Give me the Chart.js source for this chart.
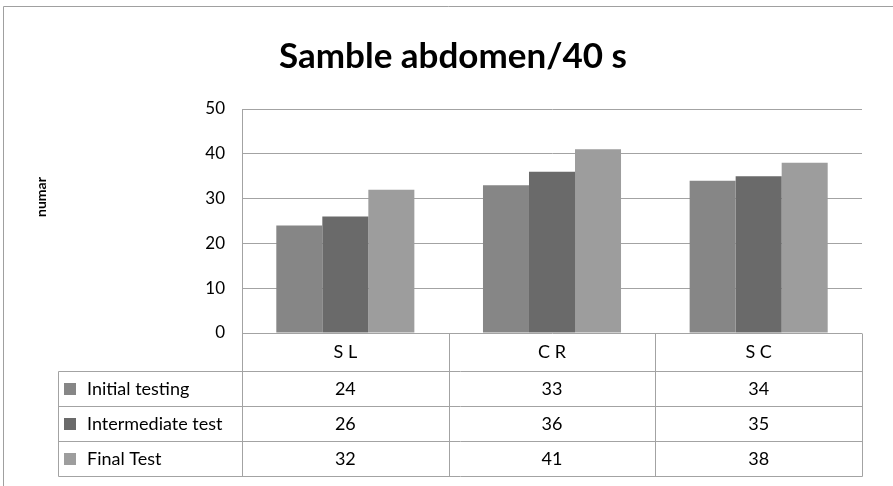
<!DOCTYPE html>
<html>
<head>
<meta charset="utf-8">
<script src="https://cdn.jsdelivr.net/npm/chart.js@4/dist/chart.umd.min.js"></script>
<style>
  html, body { margin: 0; padding: 0; background: #ffffff; }
  #wrap { width: 893px; height: 486px; position: relative; }
</style>
</head>
<body>
<div id="wrap"><canvas id="c" width="893" height="486"></canvas></div>
<script>
// Chart content
const chartTitle = 'Samble abdomen/40 s';
const axisTitle = 'numar';
const categories = ['S L', 'C R', 'S C'];
const seriesNames = ['Initial testing', 'Intermediate test', 'Final Test'];
const initialTesting = [24, 33, 34];
const intermediateTest = [26, 36, 35];
const finalTest = [32, 41, 38];
const yTickValues = [0, 10, 20, 30, 40, 50];

const seriesValues = [initialTesting, intermediateTest, finalTest];
const seriesColors = ['#868686', '#6a6a6a', '#9d9d9d'];
const lineColor = '#a3a3a3';
const FONT = 'Lato, "Open Sans", sans-serif';

// Frame, title, axis title and the data table under the plot
const tablePlugin = {
  id: 'frameAndTable',
  afterDraw(chart) {
    const ctx = chart.ctx;
    const area = chart.chartArea;
    const xs = chart.scales.x;
    ctx.save();

    // outer frame
    ctx.strokeStyle = '#a0a0a0';
    ctx.lineWidth = 1;
    ctx.beginPath();
    ctx.moveTo(3.5, 486);
    ctx.lineTo(3.5, 6.5);
    ctx.lineTo(893, 6.5);
    ctx.stroke();

    // title
    ctx.fillStyle = '#000';
    ctx.font = 'bold 35px ' + FONT;
    ctx.textAlign = 'center';
    ctx.textBaseline = 'middle';
    ctx.fillText(chartTitle, 453, 57);

    // axis title
    ctx.save();
    ctx.translate(41, 197);
    ctx.rotate(-Math.PI / 2);
    ctx.font = 'bold 14px ' + FONT;
    ctx.fillText(axisTitle, 0, 0);
    ctx.restore();

    // table geometry
    const top = Math.round(area.bottom) + 0.5;
    const left = Math.round(area.left) + 0.5;
    const right = Math.round(area.right) + 0.5;
    const legendLeft = 58.5;
    const catRowH = 38;
    const rowH = 35;
    const half = (area.right - area.left) / categories.length / 2;
    const rowTops = [top + catRowH];
    for (let i = 1; i <= seriesNames.length; i++) rowTops.push(top + catRowH + i * rowH);
    const bottom = rowTops[rowTops.length - 1];

    ctx.strokeStyle = lineColor;
    ctx.beginPath();
    // horizontal lines
    rowTops.forEach(y => { ctx.moveTo(legendLeft, y); ctx.lineTo(right, y); });
    // vertical lines
    ctx.moveTo(left, top); ctx.lineTo(left, bottom);
    ctx.moveTo(legendLeft, rowTops[0]); ctx.lineTo(legendLeft, bottom);
    categories.forEach((c, i) => {
      const xr = Math.round(xs.getPixelForValue(i) + half) + 0.5;
      ctx.moveTo(xr, top); ctx.lineTo(xr, bottom);
    });
    ctx.stroke();

    // category labels
    ctx.fillStyle = '#000';
    ctx.font = '18px ' + FONT;
    ctx.textAlign = 'center';
    categories.forEach((c, i) => {
      ctx.fillText(c, xs.getPixelForValue(i), top + catRowH / 2);
    });

    // series rows
    seriesNames.forEach((name, s) => {
      const cy = rowTops[s] + rowH / 2;
      ctx.fillStyle = seriesColors[s];
      ctx.fillRect(64, Math.round(cy) - 6, 12, 12);
      ctx.fillStyle = '#000';
      ctx.textAlign = 'left';
      ctx.fillText(name, 87, cy);
      ctx.textAlign = 'center';
      seriesValues[s].forEach((v, i) => {
        ctx.fillText(String(v), xs.getPixelForValue(i), cy);
      });
    });

    ctx.restore();
  }
};

new Chart(document.getElementById('c'), {
  type: 'bar',
  data: {
    labels: categories,
    datasets: seriesNames.map((name, s) => ({
      label: name,
      data: seriesValues[s],
      backgroundColor: seriesColors[s],
      borderWidth: 0,
      categoryPercentage: 0.668,
      barPercentage: 1.0
    }))
  },
  options: {
    responsive: false,
    devicePixelRatio: 1,
    animation: false,
    layout: { padding: { left: 0, top: 109, right: 31, bottom: 153 } },
    plugins: {
      legend: { display: false },
      title: { display: false },
      tooltip: { enabled: false }
    },
    scales: {
      x: {
        display: false
      },
      y: {
        min: 0,
        max: 50,
        afterBuildTicks(scale) { scale.ticks = yTickValues.map(v => ({ value: v })); },
        afterFit(scale) { scale.width = 242; },
        grid: { color: lineColor, drawTicks: false },
        border: { display: true, color: lineColor },
        ticks: {
          padding: 17,
          color: '#000',
          font: { family: FONT, size: 17 }
        }
      }
    }
  },
  plugins: [tablePlugin]
});
</script>
</body>
</html>
